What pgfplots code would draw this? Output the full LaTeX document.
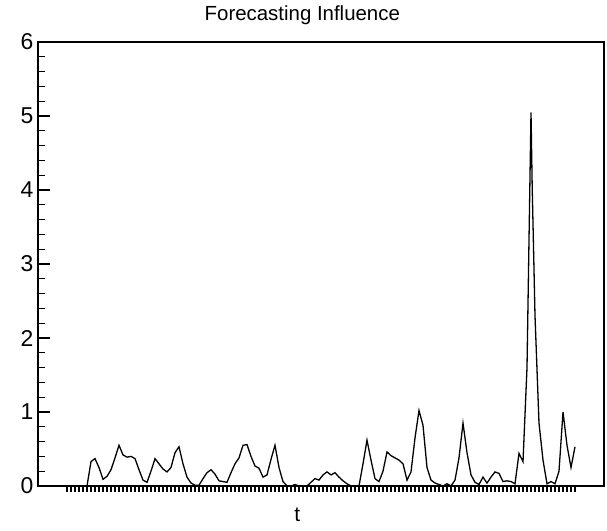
\documentclass[border=0pt]{standalone}
\usepackage{pgfplots}
\pgfplotsset{compat=1.18}
\usepackage{fontspec}
\setmainfont{Liberation Sans}

\begin{document}
\begin{tikzpicture}
\begin{axis}[
    name=main,
    scale only axis,
    width=566bp, height=444bp,
    xmin=-7.25, xmax=134.25,
    ymin=0, ymax=6,
    axis line style={line width=1.3bp},
    xtick=\empty,
    extra x ticks={0,...,127},
    extra x tick labels={},
    extra x tick style={major tick length=6bp, xtick align=outside, major tick style={black, line width=1.2bp}},
    ytick={0,1,2,3,4,5,6},
    minor y tick num=4,
    ytick align=inside,
    xtick pos=bottom,
    ytick pos=left,
    major tick length=12bp,
    minor tick length=7bp,
    major tick style={black, line width=1.2bp},
    minor tick style={black, line width=1.2bp},
    /pgf/number format/assume math mode=true,
    tick label style={font=\fontsize{23}{26}\selectfont},
    yticklabel style={xshift=-1bp},
    title={Forecasting Influence},
    title style={font=\fontsize{20.5}{24}\selectfont, at={(axis description cs:0.467,1)}, anchor=base, yshift=16bp},
    xlabel={t},
    xlabel style={font=\fontsize{21}{24}\selectfont, at={(axis description cs:0.458,0)}, anchor=north, yshift=-18bp},
]
% forecasting influence per time step
\addplot[black, line width=1.3bp] coordinates {
(0,0) (1,0) (2,0) (3,0) (4,0) (5,0)
(6,0.33) (7,0.37) (8,0.25) (9,0.09)
(10,0.13) (11,0.22) (12,0.38) (13,0.55) (14,0.42) (15,0.39) (16,0.40) (17,0.37) (18,0.22) (19,0.08)
(20,0.05) (21,0.20) (22,0.37) (23,0.30) (24,0.23) (25,0.19) (26,0.25) (27,0.45) (28,0.53) (29,0.30)
(30,0.12) (31,0.04) (32,0.01) (33,0.01) (34,0.10) (35,0.18) (36,0.22) (37,0.16) (38,0.07) (39,0.06)
(40,0.05) (41,0.18) (42,0.30) (43,0.38) (44,0.55) (45,0.56) (46,0.40) (47,0.27) (48,0.24) (49,0.12)
(50,0.15) (51,0.36) (52,0.55) (53,0.25) (54,0.06) (55,0) (56,0) (57,0.02) (58,0) (59,0)
(60,0) (61,0.05) (62,0.10) (63,0.08) (64,0.15) (65,0.19) (66,0.15) (67,0.18) (68,0.12) (69,0.07)
(70,0.03) (71,0) (72,0) (73,0) (74,0.30) (75,0.62) (76,0.35) (77,0.10) (78,0.06) (79,0.20)
(80,0.46) (81,0.41) (82,0.38) (83,0.35) (84,0.30) (85,0.08) (86,0.19) (87,0.65) (88,1.02) (89,0.82)
(90,0.25) (91,0.08) (92,0.04) (93,0.02) (94,0) (95,0.03) (96,0) (97,0.08) (98,0.38) (99,0.85)
(100,0.45) (101,0.15) (102,0.05) (103,0.02) (104,0.12) (105,0.04) (106,0.12) (107,0.19) (108,0.17) (109,0.06)
(110,0.07) (111,0.06) (112,0.03) (113,0.44) (114,0.33) (115,1.6) (116,5.05) (116.3,4.04) (117,2.3) (118,0.85)
(119,0.35) (120,0.03) (121,0.06) (122,0.03) (123,0.20) (124,1.00) (125,0.55) (126,0.25) (127,0.53)
};
\end{axis}
\path[use as bounding box] ([xshift=-38bp,yshift=-45bp]main.south west) rectangle ([xshift=3bp,yshift=42bp]main.north east);
\end{tikzpicture}
\end{document}
